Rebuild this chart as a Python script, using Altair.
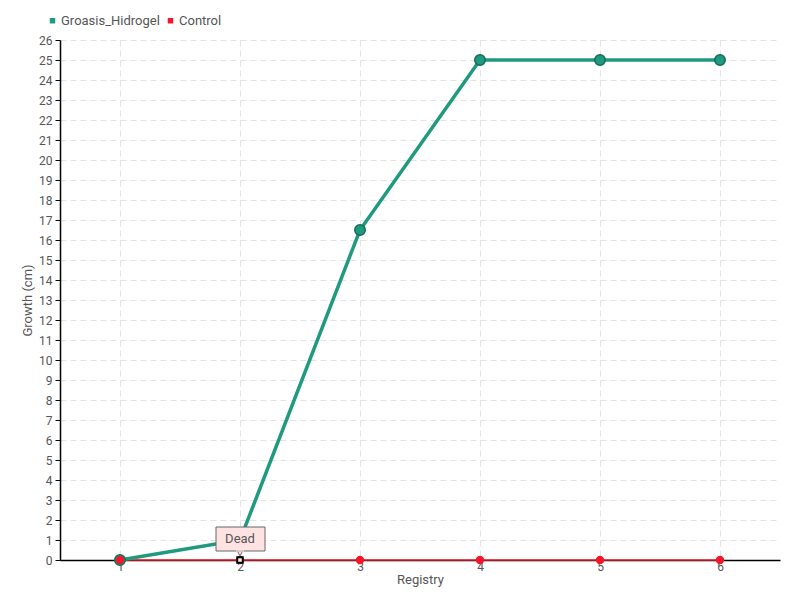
import altair as alt
import pandas as pd

registry = ["1", "2", "3", "4", "5", "6"]
groasis = [0, 1, 16.5, 25, 25, 25]
control = [0, 0, 0, 0, 0, 0]
series_names = ["Groasis_Hidrogel", "Control"]
series_colors = ["#1f9a7f", "#f5162c"]
y_ticks = list(range(0, 27))
note_text = "Dead"
note_x = "2"
note_y = 0

FONT = "'Liberation Sans Narrow', 'Roboto', sans-serif"
TXT = "#555555"

rows = []
for r, g in zip(registry, groasis):
    rows.append({"Registry": r, "value": g, "series": "Groasis_Hidrogel"})
for r, c in zip(registry, control):
    rows.append({"Registry": r, "value": c, "series": "Control"})
df = pd.DataFrame(rows)
g_df = df[df.series == "Groasis_Hidrogel"]
c_df = df[df.series == "Control"]
note_df = pd.DataFrame([{"Registry": note_x, "value": note_y, "label": note_text}])

xs = alt.X("Registry:O", scale=alt.Scale(type="point", domain=registry, padding=0.5),
           axis=alt.Axis(title="Registry", labelAngle=0, ticks=False, labelPadding=1,
                         domainColor="#000000", labelColor=TXT, titleColor=TXT,
                         labelFont=FONT, titleFont=FONT, labelFontSize=12, titleFontSize=13,
                         titleFontWeight="normal", titlePadding=1,
                         grid=True, gridDash=[6, 4], gridColor="#e3e3e3"))
ys = alt.Y("value:Q", scale=alt.Scale(domain=[0, 26], nice=False, zero=True),
           axis=alt.Axis(title="Growth (cm)", values=y_ticks, tickCount=27, labelOverlap=False,
                         tickSize=5, tickColor="#000000",
                         domainColor="#000000", labelColor=TXT, titleColor=TXT,
                         labelFont=FONT, titleFont=FONT, labelFontSize=12, titleFontSize=13,
                         titleFontWeight="normal", labelPadding=3, titlePadding=0,
                         titleX=-26,
                         grid=True, gridDash=[6, 4], gridColor="#e3e3e3"))
color = alt.Color("series:N", scale=alt.Scale(domain=series_names, range=series_colors),
                  legend=alt.Legend(title=None, orient="none", direction="horizontal",
                                    legendX=-14, legendY=-26, symbolType="square",
                                    symbolSize=30, labelFont=FONT, labelFontSize=13,
                                    labelColor=TXT, columnPadding=4, labelOffset=2,
                                    symbolStrokeWidth=0))

ctrl_line = alt.Chart(c_df).mark_line(strokeWidth=1.5).encode(x=xs, y=ys, color=color)
ctrl_pts = alt.Chart(c_df).mark_circle(size=70, opacity=1).encode(x=xs, y=ys, color=color)
g_line = alt.Chart(g_df).mark_line(strokeWidth=3.5).encode(x=xs, y=ys, color=color)
g_pts = alt.Chart(g_df).mark_point(size=110, filled=True, opacity=1, stroke="#146b58",
                                   strokeWidth=1.5).encode(x=xs, y=ys, color=color)

marker = alt.Chart(note_df).mark_point(shape="square", size=30, filled=True, fill="white",
                                       stroke="black", strokeWidth=2, opacity=1).encode(
    x=alt.X("Registry:O"), y=alt.Y("value:Q"))
box = alt.Chart(note_df).mark_rect(fill="#ffe3e3", stroke="#666666", strokeWidth=1,
                                   xOffset=-24, x2Offset=25, yOffset=-33, y2Offset=-9).encode(
    x=alt.X("Registry:O"), x2=alt.X2("Registry"), y=alt.Y("value:Q"), y2=alt.Y2("value"))
pointer = alt.Chart(note_df).mark_point(shape="triangle-down", size=40, filled=True,
                                        fill="#ffe3e3", stroke="#666666", strokeWidth=1,
                                        opacity=1, yOffset=-7).encode(
    x=alt.X("Registry:O"), y=alt.Y("value:Q"))
pointer_cover = alt.Chart(note_df).mark_rect(fill="#ffe3e3", xOffset=-4, x2Offset=4,
                                             yOffset=-9.6, y2Offset=-8.4).encode(
    x=alt.X("Registry:O"), x2=alt.X2("Registry"), y=alt.Y("value:Q"), y2=alt.Y2("value"))
txt = alt.Chart(note_df).mark_text(font=FONT, fontSize=13, color="#555555", yOffset=-21).encode(
    x=alt.X("Registry:O"), y=alt.Y("value:Q"), text="label:N")

chart = alt.layer(ctrl_line, g_line, g_pts, ctrl_pts, marker, pointer, box, pointer_cover, txt).properties(
    width=720, height=520,
    autosize=alt.AutoSizeParams(type="none"),
    padding={"left": 52, "top": 32, "right": 12, "bottom": 30},
).configure_view(stroke=None).configure_axis(domainWidth=1.5)

chart.save("out.html", embed_options={"renderer": "svg", "actions": False})
